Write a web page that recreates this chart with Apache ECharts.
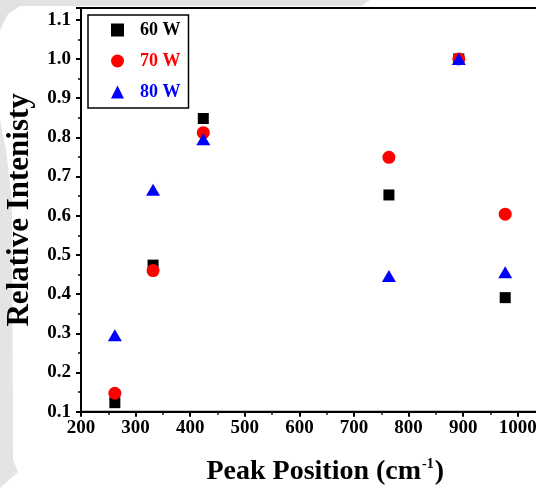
<!DOCTYPE html>
<html>
<head>
<meta charset="utf-8">
<script src="https://cdn.jsdelivr.net/npm/echarts@6/dist/echarts.min.js"></script>
<style>
html,body{margin:0;padding:0;background:#fff;}
#c{width:536px;height:488px;}
</style>
</head>
<body>
<div id="c"></div>
<script>
var peakPositions = [262, 332, 424, 764, 892, 977];
var w60 = [0.123, 0.474, 0.848, 0.653, 1.0, 0.391];
var w70 = [0.147, 0.460, 0.812, 0.749, 1.0, 0.604];
var w80 = [0.295, 0.666, 0.795, 0.446, 1.0, 0.456];
var seriesNames = ['60 W', '70 W', '80 W'];
var seriesColors = ['#000000', '#ff0000', '#0000ff'];
var seriesSymbols = ['rect', 'circle', 'triangle'];
var xTitle = 'Peak Position (cm';
var yTitle = 'Relative Intenisty';

function pairs(xs, ys) { return xs.map(function (x, i) { return [x, ys[i]]; }); }

var font = '"Liberation Serif", "Times New Roman", serif';
var chart = echarts.init(document.getElementById('c'), null, {renderer: 'canvas'});
chart.setOption({
  animation: false,
  backgroundColor: '#ffffff',
  graphic: [
    {type: 'polygon', z: -10, silent: true,
     shape: {points: [[0,0],[370,0],[362,6],[20,6],[8,14],[0,30]]},
     style: {fill: '#e2e2e2'}},
    {type: 'polygon', z: -10, silent: true,
     shape: {points: [[0,120],[6,150],[12,200],[13,460],[18,472],[0,488]]},
     style: {fill: '#e4e4e4'}}
  ],
  grid: {left: 81, top: 8, width: 458.6, height: 403.7, show: true,
         outerBoundsMode: 'none', containLabel: false,
         borderColor: '#000', borderWidth: 2, backgroundColor: 'transparent'},
  legend: {
    orient: 'vertical', left: 88, top: 15,
    borderColor: '#000', borderWidth: 1.5, backgroundColor: '#fff',
    padding: [6, 8, 7, 23], itemGap: 13, itemWidth: 13, itemHeight: 13,
    textStyle: {fontFamily: font, fontWeight: 'bold', fontSize: 18, padding: [0, 0, 0, 11]},
    data: seriesNames.map(function (n, i) {
      return {name: n, icon: seriesSymbols[i], textStyle: {color: seriesColors[i]}};
    })
  },
  xAxis: {
    type: 'value', min: 200, max: 1040, interval: 100,
    axisLine: {show: true, lineStyle: {color: '#000', width: 2}},
    axisTick: {show: true, length: 5, lineStyle: {color: '#000', width: 2}},
    minorTick: {show: true, splitNumber: 2, length: 3, lineStyle: {color: '#000', width: 1.5}},
    splitLine: {show: false},
    axisLabel: {color: '#000', fontFamily: font, fontWeight: 'bold', fontSize: 19, margin: 7,
      formatter: function (v) { return v > 1000 ? '' : String(v); }},
    name: '{a|' + xTitle + '}{s|-1}{a|)}',
    nameLocation: 'middle', nameGap: 46,
    nameTextStyle: {padding: [0, 0, 0, 30],
      rich: {a: {fontFamily: font, fontWeight: 'bold', fontSize: 28, color: '#000'},
             s: {fontFamily: font, fontWeight: 'bold', fontSize: 14, color: '#000', verticalAlign: 'top', padding: [0, 1, 12, 1]}}}
  },
  yAxis: {
    type: 'value', min: 0.1, max: 1.13, interval: 0.1,
    axisLine: {show: true, lineStyle: {color: '#000', width: 2}},
    axisTick: {show: true, length: 5, lineStyle: {color: '#000', width: 2}},
    minorTick: {show: true, splitNumber: 2, length: 3, lineStyle: {color: '#000', width: 1.5}},
    splitLine: {show: false},
    axisLabel: {color: '#000', fontFamily: font, fontWeight: 'bold', fontSize: 19, margin: 10,
      formatter: function (v) {
        var k = v * 10;
        return Math.abs(k - Math.round(k)) > 0.01 ? '' : v.toFixed(1);
      }},
    name: yTitle, nameLocation: 'middle', nameGap: 46,
    nameTextStyle: {fontFamily: font, fontWeight: 'bold', fontSize: 31, color: '#000'}
  },
  series: [
    {name: seriesNames[0], type: 'scatter', symbol: seriesSymbols[0], symbolSize: 11,
     itemStyle: {color: seriesColors[0], opacity: 1}, data: pairs(peakPositions, w60)},
    {name: seriesNames[1], type: 'scatter', symbol: seriesSymbols[1], symbolSize: 13,
     itemStyle: {color: seriesColors[1], opacity: 1}, data: pairs(peakPositions, w70)},
    {name: seriesNames[2], type: 'scatter', symbol: seriesSymbols[2], symbolSize: [14, 12],
     itemStyle: {color: seriesColors[2], opacity: 1}, data: pairs(peakPositions, w80)}
  ]
});
</script>
</body>
</html>
